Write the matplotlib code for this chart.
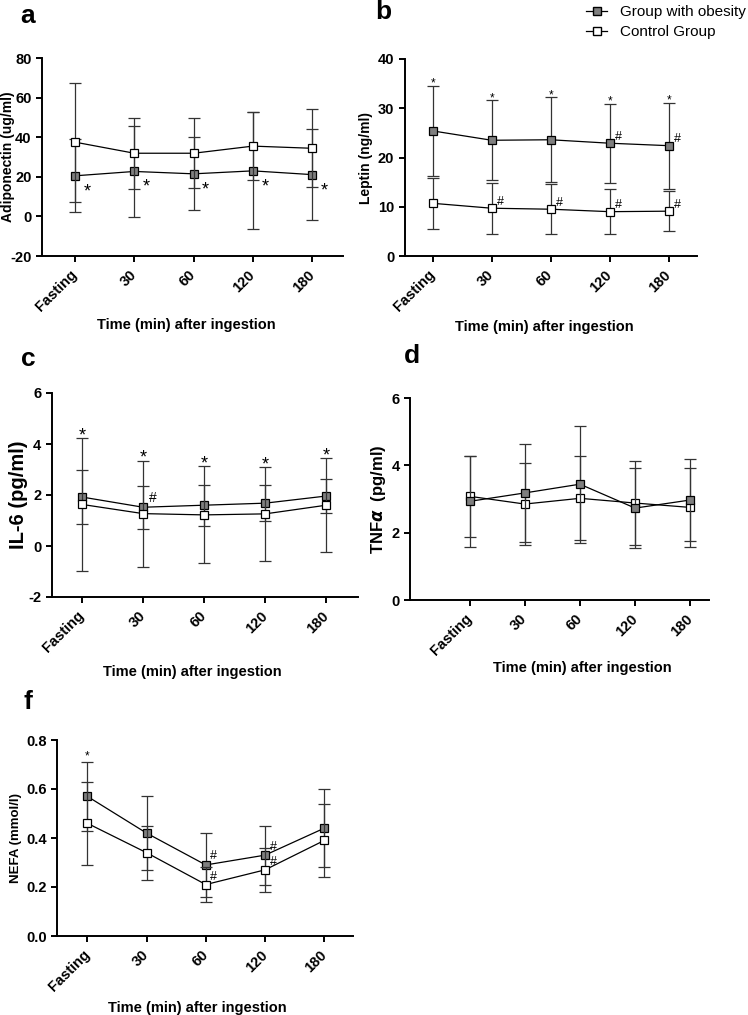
import matplotlib.pyplot as plt
from matplotlib.lines import Line2D
from matplotlib.ticker import FormatStrFormatter

plt.rcParams['font.family'] = ['Liberation Sans', 'DejaVu Sans']
plt.rcParams['font.weight'] = 'bold'
plt.rcParams['axes.labelweight'] = 'bold'

time_labels = ["Fasting", "30", "60", "120", "180"]

# mean and SD
adipo_obese = [20.5, 22.7, 21.5, 23.0, 21.1]
adipo_obese_sd = [18.5, 23.0, 18.4, 29.5, 23.0]
adipo_ctrl = [37.5, 31.9, 31.9, 35.5, 34.4]
adipo_ctrl_sd = [30.0, 18.0, 17.6, 17.0, 19.7]

leptin_obese = [25.4, 23.5, 23.6, 22.9, 22.4]
leptin_obese_sd = [9.2, 8.1, 8.6, 8.0, 8.7]
leptin_ctrl = [10.7, 9.7, 9.5, 9.0, 9.1]
leptin_ctrl_sd = [5.2, 5.2, 5.1, 4.6, 4.0]

il6_obese = [1.92, 1.52, 1.60, 1.68, 1.96]
il6_obese_sd = [1.06, 0.84, 0.80, 0.71, 0.65]
il6_ctrl = [1.63, 1.27, 1.22, 1.26, 1.60]
il6_ctrl_sd = [2.62, 2.08, 1.90, 1.84, 1.84]

tnf_obese = [2.93, 3.18, 3.44, 2.73, 2.97]
tnf_obese_sd = [1.36, 1.45, 1.74, 1.18, 1.22]
tnf_ctrl = [3.08, 2.85, 3.02, 2.88, 2.75]
tnf_ctrl_sd = [1.20, 1.22, 1.25, 1.25, 1.17]

nefa_obese = [0.57, 0.42, 0.29, 0.33, 0.44]
nefa_obese_sd = [0.14, 0.15, 0.13, 0.12, 0.16]
nefa_ctrl = [0.46, 0.34, 0.21, 0.27, 0.39]
nefa_ctrl_sd = [0.17, 0.11, 0.07, 0.09, 0.15]

W, H = 748, 1015
GREY = '#7f7f7f'
fig = plt.figure(figsize=(W / 100, H / 100), dpi=100)
x = list(range(len(time_labels)))


def panel(box, xlim, obese, obese_sd, ctrl, ctrl_sd, ylim, ystep, ylabel,
          ylabel_size, ylabel_x, xlabel_pos, yfmt='%d', obese_on_top=False):
    left, top, right, bottom = box
    ax = fig.add_axes([left / W, 1 - bottom / H, (right - left) / W, (bottom - top) / H])
    kw = dict(fmt='s-', color='black', lw=0.9, ms=6.3, mec='black', mew=0.9,
              ecolor='0.2', elinewidth=0.9, capsize=4, capthick=0.9)
    z_ob, z_ct = (3, 2) if obese_on_top else (2, 3)
    ax.errorbar(x, obese, yerr=obese_sd, mfc=GREY, zorder=z_ob, **kw)
    ax.errorbar(x, ctrl, yerr=ctrl_sd, mfc='white', zorder=z_ct, **kw)
    ax.set_xlim(*xlim)
    ax.set_ylim(*ylim)
    n = int(round((ylim[1] - ylim[0]) / ystep))
    ax.set_yticks([ylim[0] + k * ystep for k in range(n + 1)])
    ax.yaxis.set_major_formatter(FormatStrFormatter(yfmt))
    ax.set_xticks(x)
    ax.set_xticklabels(time_labels, rotation=45, ha='right', va='center',
                       rotation_mode='anchor')
    ax.tick_params(direction='out', length=4, width=1.4, labelsize=10.5)
    ax.tick_params(axis='x', pad=8)
    for s in ['top', 'right']:
        ax.spines[s].set_visible(False)
    for s in ['left', 'bottom']:
        ax.spines[s].set_linewidth(1.4)
    ax.set_ylabel(ylabel, fontsize=ylabel_size)
    ax.yaxis.set_label_coords(ylabel_x, 0.5)
    ax.set_xlabel("Time (min) after ingestion", fontsize=10.5)
    ax.xaxis.set_label_coords(*xlabel_pos)
    return ax


def mark(ax, s, xi, yv, dx, dy, size):
    em = size * 100 / 72
    c = {'*': 0.575, '#': 0.35}[s]
    ax.annotate(s, (xi, yv), xytext=(dx, dy - c * em), textcoords='offset pixels',
                ha='center', va='baseline', fontsize=size, fontweight='normal')


# a: adiponectin
ax_a = panel((42, 58, 343, 256), (-0.557, 4.52), adipo_obese, adipo_obese_sd,
             adipo_ctrl, adipo_ctrl_sd, (-20, 80), 20, "Adiponectin (ug/ml)",
             10, -0.09, (0.48, -0.315))
for i in x:
    mark(ax_a, '*', i, adipo_obese[i], 12, -10, 13)

# b: leptin
ax_b = panel((404.7, 59, 697, 256), (-0.475, 4.48), leptin_obese, leptin_obese_sd,
             leptin_ctrl, leptin_ctrl_sd, (0, 40), 10, "Leptin (ng/ml)",
             10, -0.11, (0.477, -0.325))
for i in x:
    mark(ax_b, '*', i, leptin_obese[i] + leptin_obese_sd[i], 0, 6, 8.5)
for i in [3, 4]:
    mark(ax_b, '#', i, leptin_obese[i], 9, 8, 9)
for i in [1, 2, 3, 4]:
    mark(ax_b, '#', i, leptin_ctrl[i], 9, 8, 9)

# c: IL-6
ax_c = panel((51.7, 393, 358, 597), (-0.497, 4.52), il6_obese, il6_obese_sd,
             il6_ctrl, il6_ctrl_sd, (-2, 6), 2, "IL-6 (pg/ml)",
             14.5, -0.077, (0.458, -0.335))
for i in x:
    top_cap = max(il6_ctrl[i] + il6_ctrl_sd[i], il6_obese[i] + il6_obese_sd[i])
    mark(ax_c, '*', i, top_cap, 0, 8, 13)
mark(ax_c, '#', 1, il6_obese[1], 10, 10, 10)

# d: TNF-alpha
ax_d = panel((410, 398, 709, 600), (-1.08, 4.34), tnf_obese, tnf_obese_sd,
             tnf_ctrl, tnf_ctrl_sd, (0, 6), 2, r"TNF$\alpha$  (pg/ml)",
             12, -0.075, (0.575, -0.30), obese_on_top=True)

# f: NEFA
ax_f = panel((57.3, 740, 352.7, 936), (-0.507, 4.48), nefa_obese, nefa_obese_sd,
             nefa_ctrl, nefa_ctrl_sd, (0, 0.8), 0.2, "NEFA (mmol/l)",
             9.5, -0.12, (0.473, -0.33), yfmt='%.1f')
mark(ax_f, '*', 0, nefa_obese[0] + nefa_obese_sd[0], 0, 9, 8.5)
for i in [2, 3]:
    mark(ax_f, '#', i, nefa_obese[i], 8, 10, 9)
    mark(ax_f, '#', i, nefa_ctrl[i], 8, 9, 9)

# panel letters
for letter, px, py in [('a', 28, 16), ('b', 383, 12), ('c', 28, 359),
                       ('d', 412, 356), ('f', 28, 702)]:
    fig.text(px / W, 1 - py / H, letter, fontsize=19, fontweight='bold',
             ha='center', va='center')

handles = [
    Line2D([], [], color='black', lw=0.9, marker='s', ms=6.3, mfc=GREY, mec='black'),
    Line2D([], [], color='black', lw=0.9, marker='s', ms=6.3, mfc='white', mec='black'),
]
fig.legend(handles, ["Group with obesity", "Control Group"], loc='upper left',
           bbox_to_anchor=(586 / W, 1 - 5 / H), frameon=False,
           prop={'size': 11, 'weight': 'normal'}, handlelength=1.4,
           handletextpad=0.8, borderpad=0, borderaxespad=0, labelspacing=0.4)

fig.savefig("out.png", dpi=100)
